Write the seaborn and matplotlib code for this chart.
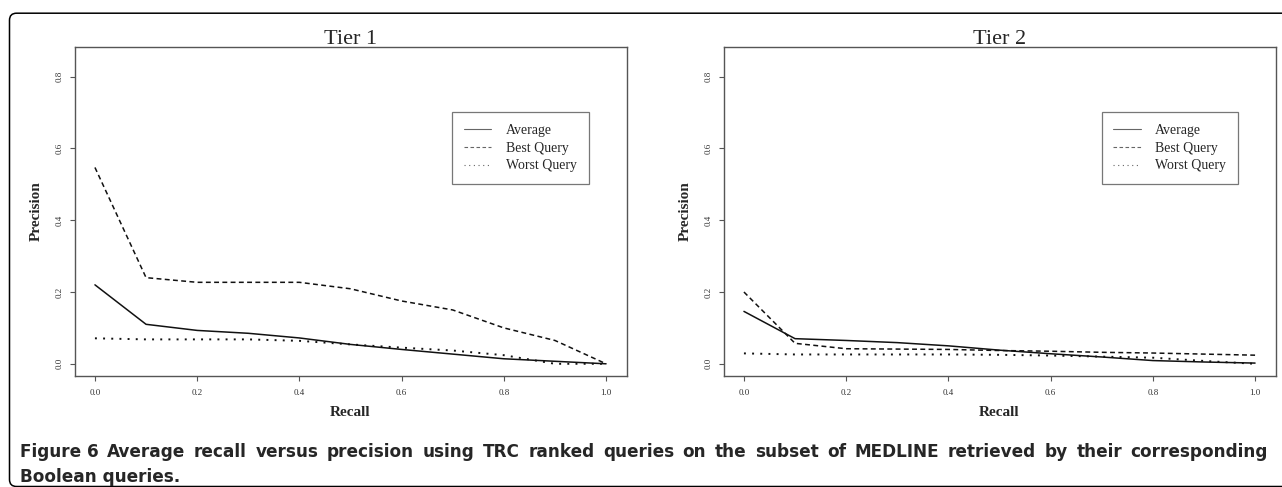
import numpy as np
import pandas as pd
import matplotlib
matplotlib.use('Agg')
import matplotlib.pyplot as plt
import seaborn as sns
from matplotlib.patches import FancyBboxPatch
from matplotlib.ticker import FormatStrFormatter

# ── données
recall = [0.0, 0.1, 0.2, 0.3, 0.4, 0.5, 0.6, 0.7, 0.8, 0.9, 1.0]
series = ['Average', 'Best Query', 'Worst Query']

tier1_average = [0.220, 0.110, 0.093, 0.085, 0.072, 0.054, 0.040, 0.027, 0.014, 0.007, 0.0]
tier1_best = [0.547, 0.240, 0.227, 0.227, 0.227, 0.209, 0.175, 0.150, 0.100, 0.065, 0.0]
tier1_worst = [0.071, 0.068, 0.068, 0.068, 0.064, 0.054, 0.045, 0.037, 0.024, 0.0, 0.0]

tier2_average = [0.146, 0.070, 0.065, 0.059, 0.050, 0.038, 0.028, 0.019, 0.009, 0.005, 0.002]
tier2_best = [0.200, 0.057, 0.042, 0.041, 0.040, 0.037, 0.035, 0.032, 0.030, 0.027, 0.024]
tier2_worst = [0.029, 0.026, 0.026, 0.026, 0.026, 0.025, 0.023, 0.020, 0.017, 0.008, 0.0]

titles = ['Tier 1', 'Tier 2']
xticks = [0.0, 0.2, 0.4, 0.6, 0.8, 1.0]
yticks = [0.0, 0.2, 0.4, 0.6, 0.8]

caption_bold = 'Figure 6'
caption_line1 = ('Average recall versus precision using TRC ranked queries on the subset of '
                 'MEDLINE retrieved by their corresponding')
caption_line2 = 'Boolean queries.'


def long_form(avg, best, worst):
    rows = []
    for name, vals in zip(series, [avg, best, worst]):
        for r, p in zip(recall, vals):
            rows.append({'Recall': r, 'Precision': p, 'serie': name})
    return pd.DataFrame(rows)


data = [long_form(tier1_average, tier1_best, tier1_worst),
        long_form(tier2_average, tier2_best, tier2_worst)]

sns.set_style('white')
plt.rcParams['font.family'] = ['Liberation Serif', 'DejaVu Serif']

W, H = 1282, 487
fig = plt.figure(figsize=(W / 100, H / 100), dpi=100)

# positions en pixels (gauche, haut, droite, bas)
boxes = [(74.5, 46.5, 626.5, 376.0), (723.5, 46.5, 1275.5, 376.0)]
legend_left = [452.3, 1101.5]
dashes = {'Average': '', 'Best Query': (3.2, 2.2), 'Worst Query': (1.0, 3.2)}
gris = '#555555'

for i, df in enumerate(data):
    l, t, r, b = boxes[i]
    ax = fig.add_axes([l / W, 1 - b / H, (r - l) / W, (b - t) / H])
    sns.lineplot(data=df, x='Recall', y='Precision', style='serie', style_order=series,
                 dashes=dashes, color='#111111', linewidth=1.1, legend=False, ax=ax)
    lignes = ax.get_lines()
    lignes[2].set_linewidth(1.4)
    ax.set_xlim(-0.04, 1.04)
    ax.set_ylim(-0.034, 0.884)
    ax.set_xticks(xticks)
    ax.set_yticks(yticks)
    ax.xaxis.set_major_formatter(FormatStrFormatter('%.1f'))
    ax.yaxis.set_major_formatter(FormatStrFormatter('%.1f'))
    for s in ax.spines.values():
        s.set_color(gris)
        s.set_linewidth(1.0)
    ax.tick_params(axis='both', direction='out', length=3.6, width=0.8, color=gris,
                   labelsize=6.5, labelcolor='#333333')
    ax.tick_params(axis='x', pad=5.5, bottom=True)
    ax.tick_params(axis='y', pad=4.5, left=True)
    for lab in ax.get_yticklabels():
        lab.set_rotation(90)
        lab.set_va('center')
    ax.set_xlabel('')
    ax.set_ylabel('')

    cx = (l + r) / 2
    fig.text(cx / W, 1 - 44.5 / H, titles[i], ha='center', va='baseline', fontsize=16)
    fig.text(cx / W, 1 - 413 / H, 'Recall', ha='center', va='center',
             fontsize=11, fontweight='bold')
    fig.text((l - 38) / W, 1 - 211 / H, 'Precision', ha='center', va='center',
             rotation=90, fontsize=11, fontweight='bold')

    leg = ax.legend(lignes[:3], series, loc='upper left',
                    bbox_to_anchor=(legend_left[i] / W, 1 - 112.3 / H),
                    bbox_transform=fig.transFigure, borderaxespad=0,
                    fontsize=10, handlelength=1.95, handletextpad=1.05,
                    borderpad=0.86, labelspacing=0.33, fancybox=False, frameon=True)
    leg.get_frame().set_edgecolor(gris)
    leg.get_frame().set_linewidth(0.9)
    for h in leg.get_lines():
        h.set_linewidth(0.8)
        h.set_color('#666666')

# ── cadre arrondi
cadre = FancyBboxPatch((9.5 / W, 0.5 / H), (W + 40) / W, (486.5 - 12.7 - 0.5) / H,
                       boxstyle='round,pad=0,rounding_size=0.0055',
                       transform=fig.transFigure, fill=False, edgecolor='black',
                       linewidth=1.1, mutation_aspect=W / H, clip_on=False)
fig.patches.append(cadre)

# ── légende de la figure (ligne 1 justifiée)
cap_font = ['DejaVu Sans']
cap_size = 12.2
y1 = 1 - 457.3 / H
y2 = 1 - 481.7 / H
x_debut, x_fin = 20.0, 1268.0

mots = [(caption_bold, 'bold')] + [(m, 'bold') for m in caption_line1.split()]
fig.canvas.draw()
renderer = fig.canvas.get_renderer()
objets = []
largeur = 0.0
for mot, poids in mots:
    t = fig.text(0, y1, mot, ha='left', va='baseline', fontsize=cap_size,
                 fontweight=poids, family=cap_font)
    w = t.get_window_extent(renderer).width
    objets.append((t, w))
    largeur += w
espace = (x_fin - x_debut - largeur) / (len(objets) - 1)
x = x_debut
for t, w in objets:
    t.set_x(x / W)
    x += w + espace

fig.text(x_debut / W, y2, caption_line2, ha='left', va='baseline',
         fontsize=cap_size, fontweight='bold', family=cap_font)

plt.savefig('out.png', dpi=100)
plt.close()
